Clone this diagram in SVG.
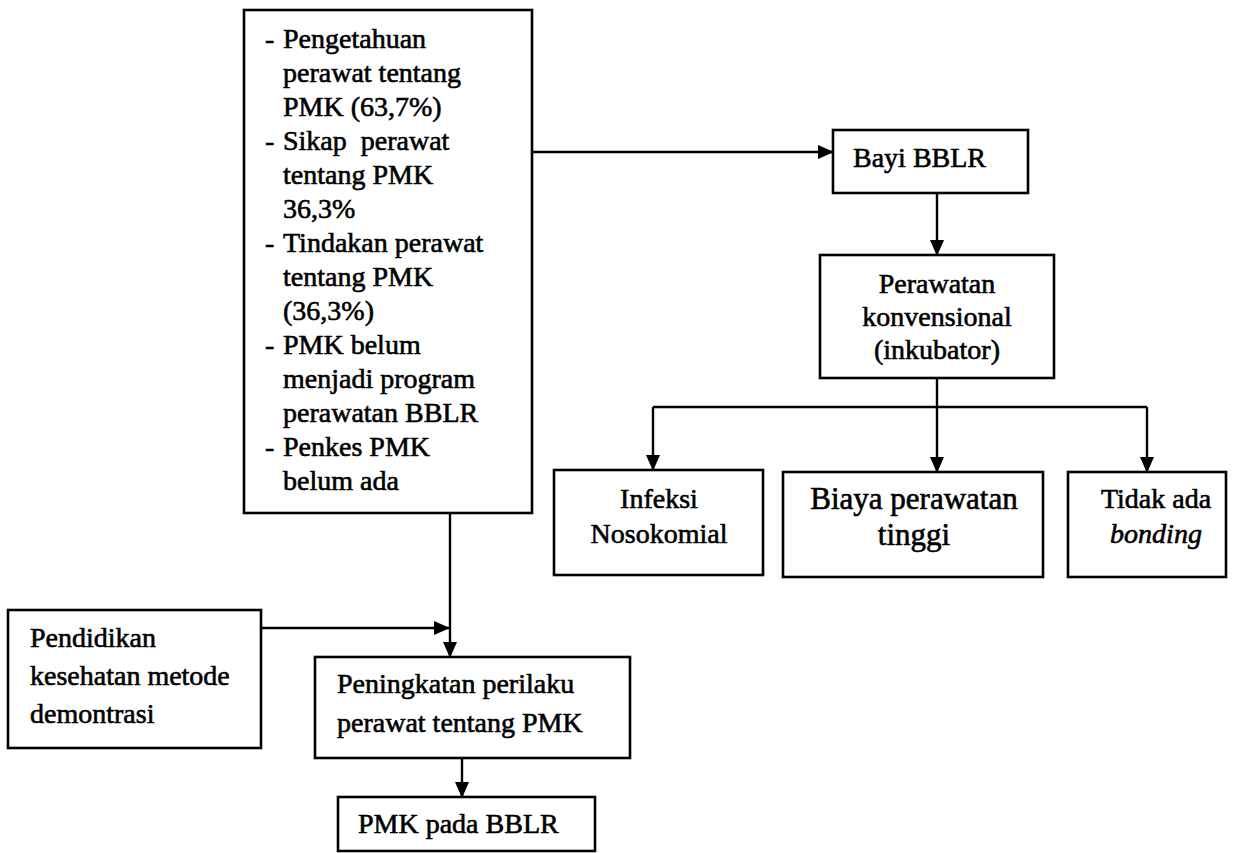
<svg xmlns="http://www.w3.org/2000/svg" width="1246" height="853" viewBox="0 0 1246 853">
<style>
.box{fill:#fff;stroke:#000;stroke-width:2.6}
.t{font-family:"Liberation Serif","Times New Roman",serif;font-size:28px;fill:#000;stroke:#000;stroke-width:0.6}
.c{text-anchor:middle}
.line{fill:none;stroke:#000;stroke-width:2.4}
</style>
<defs>
<marker id="ah" markerWidth="16" markerHeight="14" refX="15" refY="7" orient="auto" markerUnits="userSpaceOnUse">
<path d="M0,0 L16,7 L0,14 Z" fill="#000"/>
</marker>
</defs>
<rect width="1246" height="853" fill="#fff"/>
<g id="connectors">
<path class="line" d="M532,152 H833" marker-end="url(#ah)"/>
<path class="line" d="M937,193 V255" marker-end="url(#ah)"/>
<path class="line" d="M937,378 V472" marker-end="url(#ah)"/>
<path class="line" d="M653,407 H1147"/>
<path class="line" d="M653,407 V470" marker-end="url(#ah)"/>
<path class="line" d="M1147,407 V472" marker-end="url(#ah)"/>
<path class="line" d="M450,513 V657" marker-end="url(#ah)"/>
<path class="line" d="M261,628 H449" marker-end="url(#ah)"/>
<path class="line" d="M462,758 V797" marker-end="url(#ah)"/>
</g>
<g id="node-faktor">
<rect class="box" x="244" y="10" width="288" height="503"/>
<text class="t" x="265" y="48">-</text><text class="t" x="283" y="48">Pengetahuan</text>
<text class="t" x="283" y="82">perawat tentang</text>
<text class="t" x="283" y="116">PMK (63,7%)</text>
<text class="t" x="265" y="150">-</text><text class="t" x="283" y="150" xml:space="preserve">Sikap  perawat</text>
<text class="t" x="283" y="184">tentang PMK</text>
<text class="t" x="283" y="218">36,3%</text>
<text class="t" x="265" y="252">-</text><text class="t" x="283" y="252">Tindakan perawat</text>
<text class="t" x="283" y="286">tentang PMK</text>
<text class="t" x="283" y="320">(36,3%)</text>
<text class="t" x="265" y="354">-</text><text class="t" x="283" y="354">PMK belum</text>
<text class="t" x="283" y="388">menjadi program</text>
<text class="t" x="283" y="422">perawatan BBLR</text>
<text class="t" x="265" y="456">-</text><text class="t" x="283" y="456">Penkes PMK</text>
<text class="t" x="283" y="490">belum ada</text>
</g>
<g id="node-bayi">
<rect class="box" x="833" y="130" width="195" height="63"/>
<text class="t" x="853" y="167">Bayi BBLR</text>
</g>
<g id="node-perawatan">
<rect class="box" x="820" y="255" width="234" height="123"/>
<text class="t c" x="937" y="293">Perawatan</text>
<text class="t c" x="937" y="326">konvensional</text>
<text class="t c" x="937" y="359">(inkubator)</text>
</g>
<g id="node-infeksi">
<rect class="box" x="554" y="470" width="209" height="105"/>
<text class="t c" x="659" y="508">Infeksi</text>
<text class="t c" x="659" y="543">Nosokomial</text>
</g>
<g id="node-biaya">
<rect class="box" x="783" y="472" width="260" height="105"/>
<text class="t c" x="914" y="509" style="font-size:31px">Biaya perawatan</text>
<text class="t c" x="914" y="545" style="font-size:31px">tinggi</text>
</g>
<g id="node-bonding">
<rect class="box" x="1068" y="472" width="158" height="105"/>
<text class="t c" x="1156" y="508">Tidak ada</text>
<text class="t c" x="1156" y="543" font-style="italic">bonding</text>
</g>
<g id="node-pendidikan">
<rect class="box" x="8" y="610" width="253" height="138"/>
<text class="t" x="30" y="647">Pendidikan</text>
<text class="t" x="30" y="685">kesehatan metode</text>
<text class="t" x="30" y="723">demontrasi</text>
</g>
<g id="node-peningkatan">
<rect class="box" x="315" y="657" width="315" height="101"/>
<text class="t" x="337" y="693">Peningkatan perilaku</text>
<text class="t" x="337" y="732">perawat tentang PMK</text>
</g>
<g id="node-pmk">
<rect class="box" x="338" y="797" width="257" height="54"/>
<text class="t" x="358" y="833">PMK pada BBLR</text>
</g>
</svg>
